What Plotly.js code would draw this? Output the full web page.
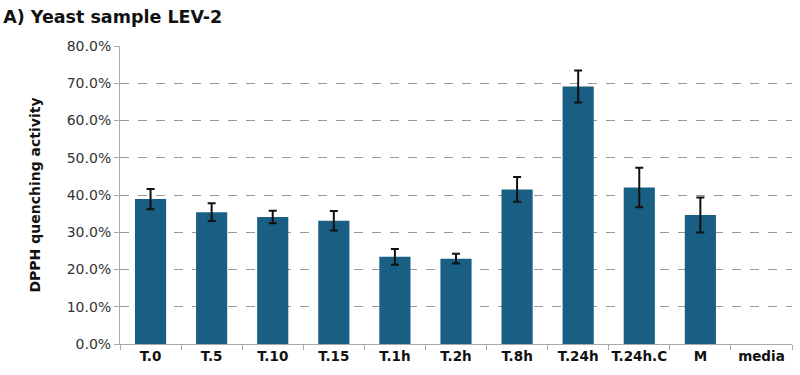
<!DOCTYPE html>
<html>
<head>
<meta charset="utf-8">
<script src="https://cdn.plot.ly/plotly-3.0.1.min.js"></script>
<style>html,body{margin:0;padding:0;background:#fff;}#chart{width:800px;height:375px;}</style>
</head>
<body>
<div id="chart"></div>
<script>
const categories = ["T.0","T.5","T.10","T.15","T.1h","T.2h","T.8h","T.24h","T.24h.C","M","media"];
const values = [0.389,0.354,0.341,0.331,0.234,0.229,0.415,0.691,0.420,0.346,null];
const errors = [0.027,0.024,0.017,0.026,0.021,0.013,0.033,0.043,0.053,0.047,null];
const yTickVals = [0,0.1,0.2,0.3,0.4,0.5,0.6,0.7,0.8];

const trace = {
  type: "bar",
  x: categories,
  y: values,
  marker: {color: "#195e83", line: {width: 0}},
  error_y: {type: "data", array: errors, visible: true, color: "#111", thickness: 2, width: 4},
  hoverinfo: "skip"
};

const layout = {
  width: 800, height: 375,
  margin: {l: 120, r: 8, t: 46, b: 31, pad: 0},
  paper_bgcolor: "#fff", plot_bgcolor: "#fff",
  font: {family: "DejaVu Sans, sans-serif", size: 13, color: "#333"},
  title: {text: "<b>A) Yeast sample LEV-2</b>", x: 0.004, xanchor: "left", y: 0.955, yanchor: "middle",
          font: {family: "DejaVu Sans, sans-serif", size: 17.5, color: "#111"}},
  bargap: 0.49,
  showlegend: false,
  xaxis: {
    type: "category",
    showline: true, linecolor: "#aaa", linewidth: 1,
    ticks: "outside", tickson: "boundaries", ticklen: 5, tickcolor: "#aaa",
    tickangle: 0,
    tickfont: {family: "DejaVu Sans, sans-serif", size: 13.5, color: "#111", weight: "bold"},
    showgrid: false, zeroline: false
  },
  yaxis: {
    range: [0, 0.8],
    tickvals: yTickVals, tickformat: ".1%",
    showline: true, linecolor: "#aaa", linewidth: 1,
    ticks: "outside", ticklen: 5, tickcolor: "#aaa",
    tickfont: {family: "DejaVu Sans, sans-serif", size: 14, color: "#333"},
    showgrid: true, gridcolor: "#999", griddash: "dash", gridwidth: 1,
    zeroline: false,
    title: {text: "<b>DPPH quenching activity</b>", standoff: 22,
            font: {family: "DejaVu Sans, sans-serif", size: 14, color: "#111"}}
  }
};

Plotly.newPlot("chart", [trace], layout, {displayModeBar: false, staticPlot: true});
</script>
</body>
</html>
